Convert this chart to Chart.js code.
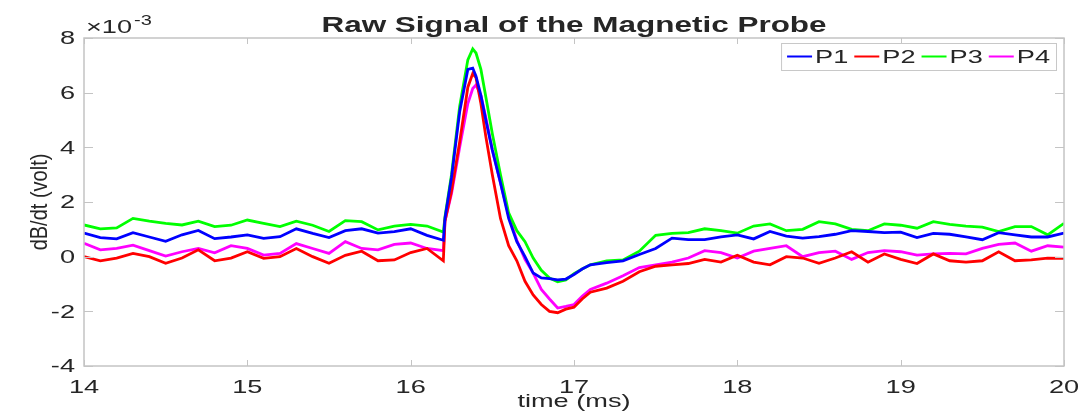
<!DOCTYPE html>
<html>
<head>
<meta charset="utf-8">
<title>Raw Signal of the Magnetic Probe</title>
<script src="https://cdn.jsdelivr.net/npm/chart.js@4/dist/chart.umd.min.js"></script>
<style>
  html, body { margin: 0; padding: 0; background: #ffffff; }
  #probe { display: block; }
</style>
</head>
<body>
<canvas id="probe" width="1085" height="412"></canvas>
<script>
(function () {
  "use strict";

  // Sample times (ms) shared by all four probes.
  const timeMs = [
    14.0, 14.1, 14.2, 14.3, 14.4, 14.5, 14.6, 14.7, 14.8, 14.9,
    15.0, 15.1, 15.2, 15.3, 15.4, 15.5, 15.6, 15.7, 15.8, 15.9,
    16.0, 16.1, 16.2,
    16.21, 16.25, 16.3, 16.35, 16.38, 16.4, 16.43, 16.46, 16.5, 16.55,
    16.6, 16.65, 16.7, 16.75, 16.8, 16.85, 16.9, 16.95, 17.0, 17.05, 17.1,
    17.2, 17.3, 17.4, 17.5, 17.6, 17.7, 17.8, 17.9, 18.0, 18.1,
    18.2, 18.3, 18.4, 18.5, 18.6, 18.7, 18.8, 18.9, 19.0, 19.1,
    19.2, 19.3, 19.4, 19.5, 19.6, 19.7, 19.8, 19.9, 20.0
  ];

  // dB/dt per probe, in units of 1e-3 V.
  const p1 = [
    0.86, 0.70, 0.65, 0.88, 0.72, 0.56, 0.80, 0.96, 0.66, 0.72,
    0.80, 0.67, 0.73, 1.02, 0.85, 0.70, 0.95, 1.02, 0.86, 0.92,
    1.02, 0.78, 0.60,
    1.4, 2.9, 5.3, 6.85, 6.9, 6.6, 5.9, 5.0, 3.9, 2.7,
    1.4, 0.55, 0.0, -0.6, -0.78, -0.8, -0.85, -0.82, -0.65, -0.45, -0.3,
    -0.22, -0.15, 0.08, 0.3, 0.68, 0.62, 0.62, 0.72, 0.8, 0.65,
    0.92, 0.75, 0.68, 0.73, 0.82, 0.95, 0.92, 0.88, 0.9, 0.7,
    0.85, 0.82, 0.72, 0.62, 0.88, 0.8, 0.72, 0.72, 0.86
  ];
  const p2 = [
    0.0, -0.15, -0.05, 0.12, 0.0, -0.24, -0.05, 0.25, -0.15, -0.05,
    0.18, -0.06, 0.0, 0.30, 0.0, -0.24, 0.05, 0.20, -0.15, -0.12,
    0.15, 0.30, -0.15,
    1.3, 2.4, 4.2, 6.2, 6.7, 6.55, 5.6, 4.4, 3.0, 1.4,
    0.4, -0.15, -0.9, -1.4, -1.75, -2.0, -2.05, -1.92, -1.85, -1.55, -1.3,
    -1.15, -0.9, -0.55, -0.35, -0.3, -0.25, -0.1, -0.2, 0.05, -0.2,
    -0.3, 0.0, -0.05, -0.24, -0.05, 0.18, -0.2, 0.1, -0.1, -0.25,
    0.1, -0.15, -0.2, -0.15, 0.18, -0.15, -0.12, -0.05, -0.06
  ];
  const p3 = [
    1.16, 1.02, 1.05, 1.40, 1.30, 1.22, 1.16, 1.30, 1.10, 1.15,
    1.34, 1.22, 1.10, 1.30, 1.15, 0.92, 1.32, 1.28, 0.98, 1.12,
    1.18, 1.12, 0.90,
    1.45, 3.0, 5.5, 7.2, 7.6, 7.45, 6.85, 5.85, 4.5, 3.0,
    1.6, 0.95, 0.55, -0.05, -0.5, -0.78, -0.92, -0.85, -0.62, -0.45, -0.3,
    -0.15, -0.12, 0.2, 0.78, 0.85, 0.88, 1.02, 0.95, 0.86, 1.12,
    1.2, 0.95, 1.0, 1.28, 1.2, 1.0, 0.95, 1.2, 1.15, 1.04,
    1.28, 1.18, 1.12, 1.08, 0.92, 1.1, 1.1, 0.8, 1.22
  ];
  const p4 = [
    0.49, 0.25, 0.30, 0.42, 0.22, 0.02, 0.18, 0.30, 0.14, 0.40,
    0.30, 0.06, 0.12, 0.48, 0.30, 0.12, 0.55, 0.30, 0.25, 0.45,
    0.50, 0.30, 0.22,
    1.3, 2.3, 4.0, 5.6, 6.15, 6.28, 5.9, 5.1, 3.9, 2.7,
    1.5, 0.6, -0.1, -0.6, -1.2, -1.55, -1.88, -1.82, -1.75, -1.45, -1.2,
    -0.97, -0.7, -0.4, -0.3, -0.2, -0.05, 0.22, 0.15, -0.05, 0.2,
    0.3, 0.4, 0.0, 0.15, 0.2, -0.1, 0.15, 0.22, 0.18, 0.06,
    0.1, 0.12, 0.1, 0.3, 0.45, 0.5, 0.2, 0.4, 0.35
  ];

  const probeLabels = ["P1", "P2", "P3", "P4"];
  const probeColors = ["#0000ff", "#ff0000", "#00ff00", "#ff00ff"];
  const xTicks = [14, 15, 16, 17, 18, 19, 20];
  const yTicks = [-4, -2, 0, 2, 4, 6, 8];

  const TEXT = "#262626";
  const AXIS = "#c4c4c4";
  const FONT = "'Liberation Sans', Arial, Helvetica, sans-serif";
  const SX = 1.43; // figure text is drawn wide, like a stretched MATLAB export

  function points(values) {
    return values.map((v, i) => ({ x: timeMs[i], y: v }));
  }

  /** fillText with a horizontal stretch around the anchor point. */
  function wideText(ctx, text, x, y, align, sx) {
    ctx.save();
    ctx.translate(x, y);
    ctx.scale(sx, 1);
    ctx.textAlign = align;
    ctx.fillText(text, 0, 0);
    ctx.restore();
  }

  // Box axes with inward ticks, title, exponent label, axis titles and legend.
  const matlabAxes = {
    id: "matlabAxes",
    afterDraw(chart) {
      const ctx = chart.ctx;
      const a = chart.chartArea;
      const xs = chart.scales.x;
      const ys = chart.scales.y;

      ctx.save();
      ctx.strokeStyle = AXIS;
      ctx.lineWidth = 1.5;
      ctx.strokeRect(a.left, a.top, a.right - a.left, a.bottom - a.top);

      ctx.lineWidth = 1;
      ctx.beginPath();
      xTicks.forEach((t) => {
        const px = Math.round(xs.getPixelForValue(t)) + 0.5;
        ctx.moveTo(px, a.bottom); ctx.lineTo(px, a.bottom - 6);
        ctx.moveTo(px, a.top); ctx.lineTo(px, a.top + 6);
      });
      yTicks.forEach((t) => {
        const py = Math.round(ys.getPixelForValue(t)) + 0.5;
        ctx.moveTo(a.left, py); ctx.lineTo(a.left + 9, py);
        ctx.moveTo(a.right, py); ctx.lineTo(a.right - 9, py);
      });
      ctx.stroke();

      ctx.fillStyle = TEXT;
      ctx.textBaseline = "alphabetic";

      // tick labels
      ctx.font = "19px " + FONT;
      xTicks.forEach((t) => {
        wideText(ctx, String(t), xs.getPixelForValue(t), a.bottom + 27, "center", SX);
      });
      ctx.textBaseline = "middle";
      yTicks.forEach((t) => {
        wideText(ctx, String(t), a.left - 9, ys.getPixelForValue(t) + 1, "right", SX);
      });

      // exponent
      ctx.textBaseline = "alphabetic";
      ctx.font = "19px " + FONT;
      wideText(ctx, "\u00d710", a.left + 2, 33, "left", SX);
      const w10 = ctx.measureText("\u00d710").width * SX;
      ctx.font = "14px " + FONT;
      wideText(ctx, "-3", a.left + 4 + w10, 25, "left", SX);

      // title
      ctx.font = "bold 22px " + FONT;
      wideText(ctx, "Raw Signal of the Magnetic Probe", (a.left + a.right) / 2, 32, "center", SX);

      // axis titles
      ctx.font = "19px " + FONT;
      wideText(ctx, "time (ms)", (a.left + a.right) / 2, 407, "center", SX);
      ctx.save();
      ctx.translate(47, (a.top + a.bottom) / 2);
      ctx.rotate(-Math.PI / 2);
      ctx.scale(1, 1.2);
      ctx.font = "20px " + FONT;
      ctx.textAlign = "center";
      ctx.fillText("dB/dt (volt)", 0, 0);
      ctx.restore();

      // legend (top right, inside the axes)
      const boxRight = a.right - 8;
      const boxTop = a.top + 5;
      const boxH = 27;
      ctx.font = "19px " + FONT;
      const lineLen = 25;
      const items = chart.data.datasets.map((d) => ({
        label: d.label,
        color: d.borderColor,
        w: ctx.measureText(d.label).width * SX,
      }));
      const itemW = items.map((it) => lineLen + 3 + it.w + 6);
      const total = itemW.reduce((s, w) => s + w, 0) + 6;
      const boxLeft = boxRight - total;
      ctx.fillStyle = "#ffffff";
      ctx.fillRect(boxLeft, boxTop, total, boxH);
      ctx.strokeStyle = "#c8c8c8";
      ctx.lineWidth = 1;
      ctx.strokeRect(boxLeft + 0.5, boxTop + 0.5, total, boxH);
      let cx = boxLeft + 6;
      const cy = boxTop + boxH / 2;
      items.forEach((it, i) => {
        ctx.strokeStyle = it.color;
        ctx.lineWidth = 2;
        ctx.beginPath();
        ctx.moveTo(cx, cy); ctx.lineTo(cx + lineLen, cy);
        ctx.stroke();
        ctx.fillStyle = TEXT;
        ctx.textBaseline = "middle";
        wideText(ctx, it.label, cx + lineLen + 3, cy + 1, "left", SX);
        cx += itemW[i];
      });
      ctx.restore();
    },
  };

  const series = [p1, p2, p3, p4];

  new Chart(document.getElementById("probe"), {
    type: "line",
    data: {
      datasets: series.map((vals, i) => ({
        label: probeLabels[i],
        data: points(vals),
        borderColor: probeColors[i],
        backgroundColor: probeColors[i],
        borderWidth: 2.8,
        pointRadius: 0,
        tension: 0,
        fill: false,
      })),
    },
    options: {
      responsive: false,
      animation: false,
      devicePixelRatio: 1,
      layout: { padding: { left: 84, right: 21, top: 38, bottom: 46 } },
      scales: {
        x: { type: "linear", min: 14, max: 20, display: false },
        y: { type: "linear", min: -4, max: 8, display: false },
      },
      plugins: {
        legend: { display: false },
        title: { display: false },
        tooltip: { enabled: false },
      },
    },
    plugins: [matlabAxes],
  });
})();
</script>
</body>
</html>
